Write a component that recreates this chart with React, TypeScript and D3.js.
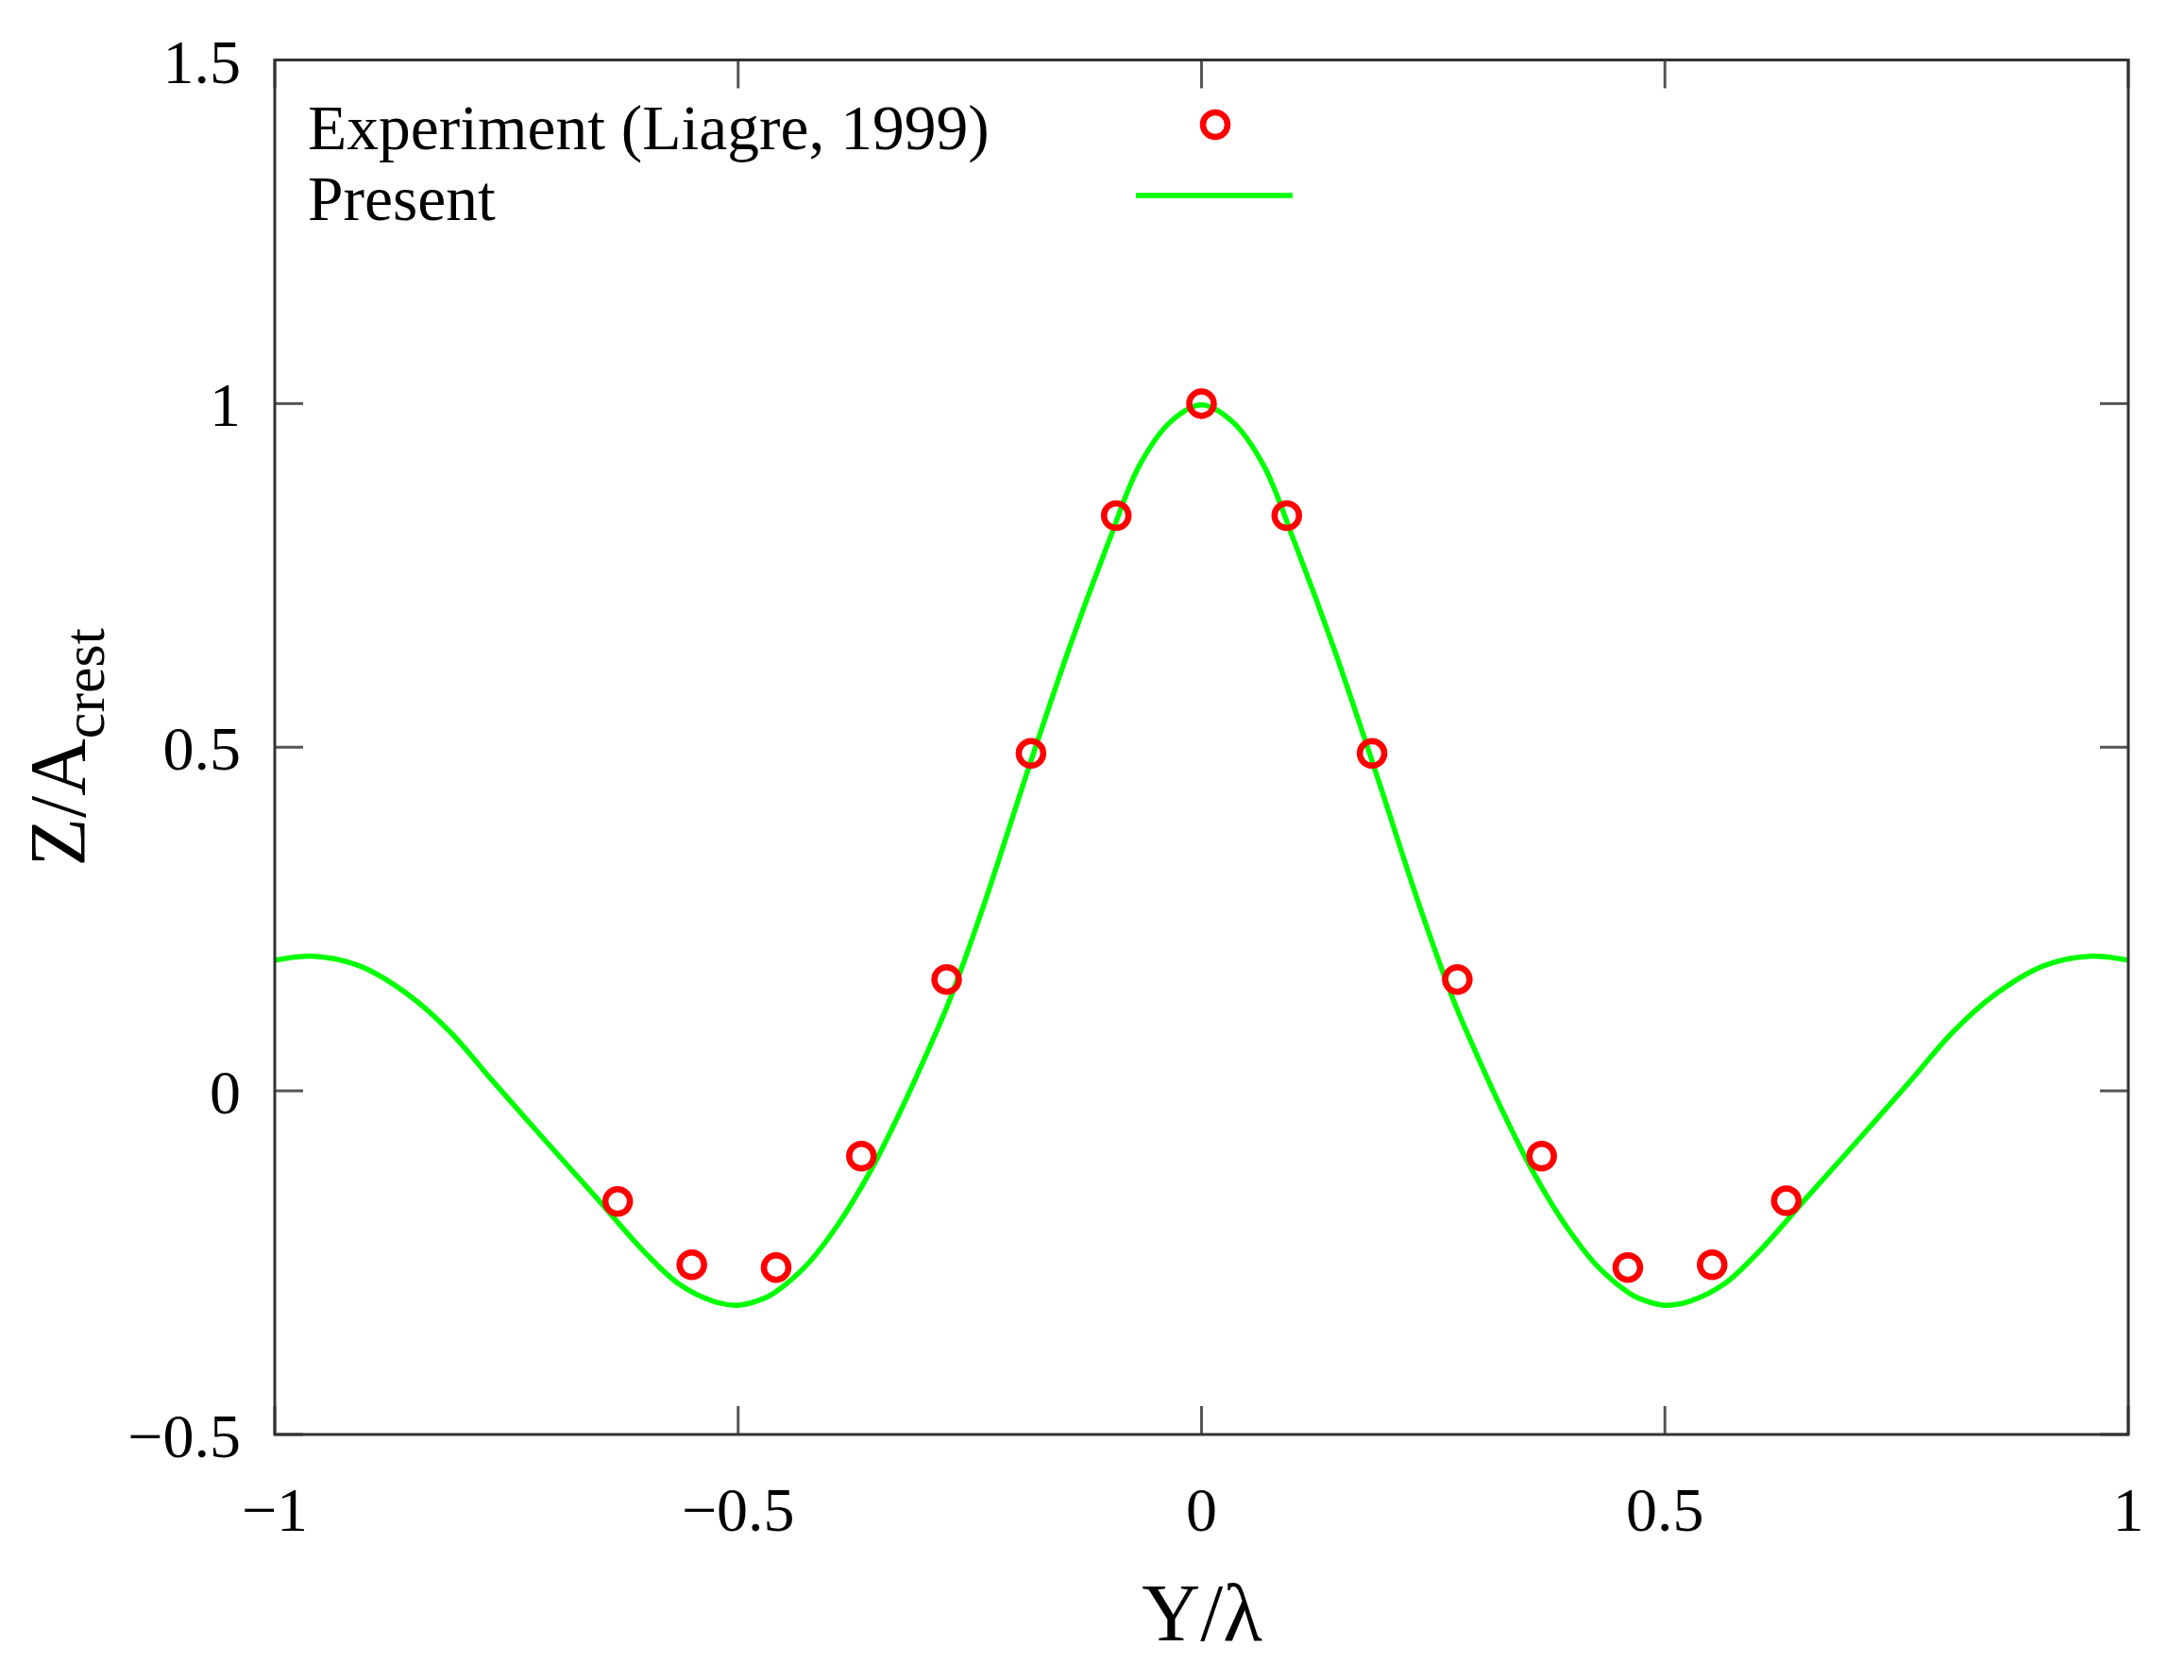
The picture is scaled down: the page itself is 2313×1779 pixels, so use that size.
import React from "react";
import * as d3 from "d3";

// Experimental data (Liagre, 1999)
const expX = [-0.630, -0.550, -0.459, -0.367, -0.275, -0.184, -0.092, 0.0, 0.092, 0.184, 0.276, 0.367, 0.460, 0.551, 0.631];
const expY = [-0.161, -0.253, -0.257, -0.095, 0.162, 0.491, 0.837, 1.0, 0.837, 0.491, 0.162, -0.095, -0.257, -0.253, -0.160];

// Present (numerical) curve
const curveX = [
  -1.0, -0.96, -0.909, -0.854, -0.811, -0.764, -0.709, -0.654, -0.600, -0.563, -0.527, -0.500, -0.472, -0.461,
  -0.427, -0.393, -0.359, -0.325, -0.291, -0.271, -0.237, -0.186, -0.142, -0.101, -0.067, -0.033, 0.0,
  0.033, 0.067, 0.101, 0.142, 0.186, 0.237, 0.271, 0.291, 0.325, 0.359, 0.393, 0.427,
  0.461, 0.472, 0.500, 0.527, 0.563, 0.600, 0.654, 0.709, 0.764, 0.811, 0.854, 0.909, 0.96, 1.0,
];
const curveY = [
  0.190, 0.196, 0.182, 0.138, 0.086, 0.013, -0.071, -0.154, -0.236, -0.282, -0.306, -0.312, -0.302, -0.294,
  -0.255, -0.196, -0.121, -0.030, 0.071, 0.135, 0.262, 0.472, 0.647, 0.796, 0.910, 0.974, 0.998,
  0.974, 0.910, 0.796, 0.647, 0.472, 0.262, 0.135, 0.071, -0.030, -0.121, -0.196, -0.255,
  -0.294, -0.302, -0.312, -0.306, -0.282, -0.236, -0.154, -0.071, 0.013, 0.086, 0.138, 0.182, 0.196, 0.190,
];

const xTicks = [-1, -0.5, 0, 0.5, 1];
const yTicks = [-0.5, 0, 0.5, 1, 1.5];
const legendLabels = ["Experiment (Liagre, 1999)", "Present"];

const W = 2313;
const H = 1779;
const L = 291;
const R = 2254;
const T = 63.5;
const B = 1519;
const FONT = "'Liberation Serif', 'Times New Roman', Times, serif";
const GREEN = "#00ff00";
const RED = "#ff0000";

const fmt = (v: number) => {
  const s = String(Math.abs(v));
  return v < 0 ? "\u2212" + s : s;
};

export default function App() {
  const x = d3.scaleLinear().domain([-1, 1]).range([L, R]);
  const y = d3.scaleLinear().domain([-0.5, 1.5]).range([B, T]);
  const curveData = curveX.map((cx, i) => [cx, curveY[i]] as [number, number]);
  const line = d3
    .line<[number, number]>()
    .x((d) => x(d[0]))
    .y((d) => y(d[1]))
    .curve(d3.curveCatmullRom.alpha(0.5));
  const tickLen = 30;

  return (
    <svg
      width={W}
      height={H}
      style={{ position: "absolute", left: 0, top: 0, background: "#fff" }}
      fontFamily={FONT}
    >
      <rect x={0} y={0} width={W} height={H} fill="#fff" />
      <defs>
        <clipPath id="plot">
          <rect x={L} y={T} width={R - L} height={B - T} />
        </clipPath>
      </defs>

      {/* ticks */}
      {xTicks.map((t) => (
        <g key={"xt" + t}>
          <line x1={x(t)} x2={x(t)} y1={B} y2={B - tickLen} stroke="#555" strokeWidth={3} />
          <line x1={x(t)} x2={x(t)} y1={T} y2={T + tickLen} stroke="#555" strokeWidth={3} />
          <text x={x(t)} y={1621} textAnchor="middle" fontSize={66} fill="#000">
            {fmt(t)}
          </text>
        </g>
      ))}
      {yTicks.map((t) => (
        <g key={"yt" + t}>
          <line x1={L} x2={L + tickLen} y1={y(t)} y2={y(t)} stroke="#555" strokeWidth={3} />
          <line x1={R} x2={R - tickLen} y1={y(t)} y2={y(t)} stroke="#555" strokeWidth={3} />
          <text x={255} y={y(t) + 24} textAnchor="end" fontSize={66} fill="#000">
            {fmt(t)}
          </text>
        </g>
      ))}

      {/* curve */}
      <path
        d={line(curveData) || ""}
        fill="none"
        stroke={GREEN}
        strokeWidth={5.5}
        strokeLinejoin="round"
        clipPath="url(#plot)"
      />

      {/* experimental points */}
      {expX.map((ex, i) => (
        <circle key={"p" + i} cx={x(ex)} cy={y(expY[i])} r={13} fill="none" stroke={RED} strokeWidth={6.5} />
      ))}

      {/* frame */}
      <rect x={L} y={T} width={R - L} height={B - T} fill="none" stroke="#333" strokeWidth={3} />

      {/* legend */}
      <text x={326} y={158} fontSize={67.5} fill="#000">
        {legendLabels[0]}
      </text>
      <circle cx={1287} cy={132} r={13} fill="none" stroke={RED} strokeWidth={6.5} />
      <text x={326} y={233} fontSize={67.5} fill="#000">
        {legendLabels[1]}
      </text>
      <line x1={1203} x2={1369} y1={207} y2={207} stroke={GREEN} strokeWidth={5.5} />

      {/* axis titles */}
      <text x={1273} y={1737} textAnchor="middle" fontSize={86} fill="#000">
        Y/λ
      </text>
      <text
        transform={`translate(90, ${(T + B) / 2}) rotate(-90)`}
        textAnchor="middle"
        fontSize={84}
        fill="#000"
      >
        Z/A
        <tspan fontSize={62} dy={20}>
          crest
        </tspan>
      </text>
    </svg>
  );
}
